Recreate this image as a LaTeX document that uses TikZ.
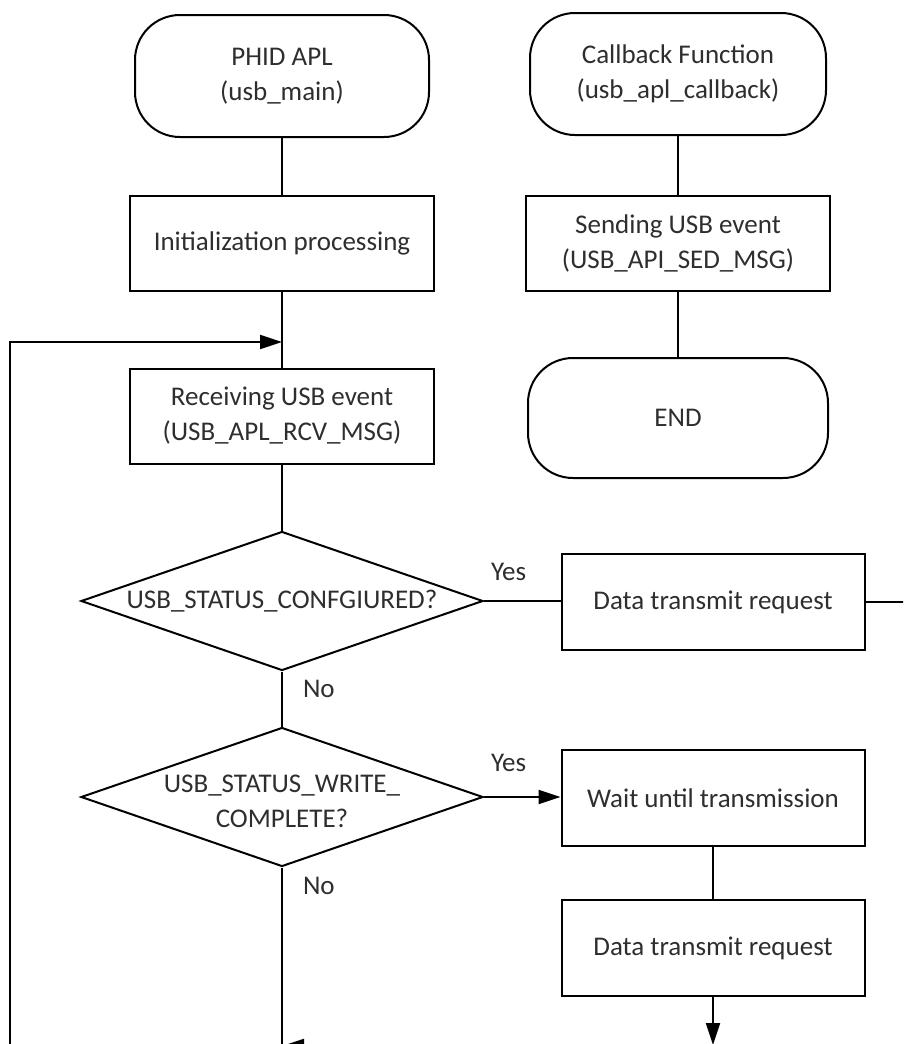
\documentclass[tikz,border=0pt]{standalone}
\usepackage{fontspec}
\setmainfont{Carlito}
\usetikzlibrary{shapes.geometric,arrows.meta}

\tikzset{
  term/.style={draw, rectangle, rounded corners=45pt, minimum width=294pt, minimum height=122pt, align=center},
  proc/.style={draw, rectangle, minimum width=304pt, minimum height=95pt, align=center},
  decision/.style={draw, diamond, minimum width=402pt, minimum height=139pt, inner sep=0pt},
  flow/.style={line width=2pt},
  arr/.style={flow, -{Triangle[length=22pt,width=14pt]}},
  lbl/.style={inner sep=0pt},
}

\begin{document}
\begin{tikzpicture}[x=1pt, y=-1pt, font=\fontsize{27}{35}\selectfont,
    every node/.append style={line width=2pt, text=black!82}]
  \useasboundingbox (0,0) rectangle (903,1044);
  \clip (0,0) rectangle (903,1044);

  % main program
  \node[term] (t1) at (282,76) {PHID APL\\(usb\_main)};
  \node[proc] (init) at (282,243) {Initialization processing};
  \node[proc] (recv) at (282,416) {Receiving USB event\\(USB\_APL\_RCV\_MSG)};
  \node[decision, label={[align=center]center:USB\_STATUS\_CONFGIURED?}] (q1) at (282,601) {};
  \node[decision, label={[align=center, yshift=-4pt]center:USB\_STATUS\_WRITE\_\\COMPLETE?}] (q2) at (282,797) {};
  \node[proc, minimum width=303pt, minimum height=96pt] (data1) at (713,602) {Data transmit request};
  \node[proc, minimum width=303pt, minimum height=96pt] (wait) at (713,798) {Wait until transmission};
  \node[proc, minimum width=303pt, minimum height=96pt] (data2) at (713,948) {Data transmit request};

  % callback
  \node[term, minimum width=296pt] (t2) at (678,74) {Callback Function\\(usb\_apl\_callback)};
  \node[proc] (send) at (678,243) {Sending USB event\\(USB\_API\_SED\_MSG)};
  \node[term, minimum width=300pt, minimum height=120pt] (endt) at (678,418) {END};

  \coordinate (merge) at (282,342);
  \coordinate (loop) at (10,1060);
  \coordinate (exit) at (920,602);
  \coordinate (bottom) at (713,1045);
  \coordinate (back) at (713,1046);

  \draw[flow] (t1) -- (init);
  \draw[flow] (init) -- (recv);
  \draw[arr] (loop) |- (merge);
  \draw[flow] (recv) -- (q1);
  \draw[flow] (q1.south) -- node[lbl, pos=0, anchor=north west, xshift=20pt, yshift=-8pt] {No} (q2.north);
  \draw[flow] (q1.east) -- node[lbl, pos=0, anchor=south west, xshift=6pt, yshift=19pt] {Yes} (data1.west |- q1.east);
  \draw[flow] (data1) -- (exit);
  \draw[arr] (q2.east) -- node[lbl, pos=0, anchor=south west, xshift=6pt, yshift=24pt] {Yes} (wait.west |- q2.east);
  \draw[flow] (wait) -- (data2);
  \draw[arr] (data2) -- (bottom);
  \draw[flow] (q2.south) -- node[lbl, pos=0, anchor=north west, xshift=20pt, yshift=-9pt] {No} (q2.south |- loop);
  \draw[arr] (back) -- (q2.south |- back);

  \draw[flow] (t2) -- (send);
  \draw[flow] (send) -- (endt);
\end{tikzpicture}
\end{document}
